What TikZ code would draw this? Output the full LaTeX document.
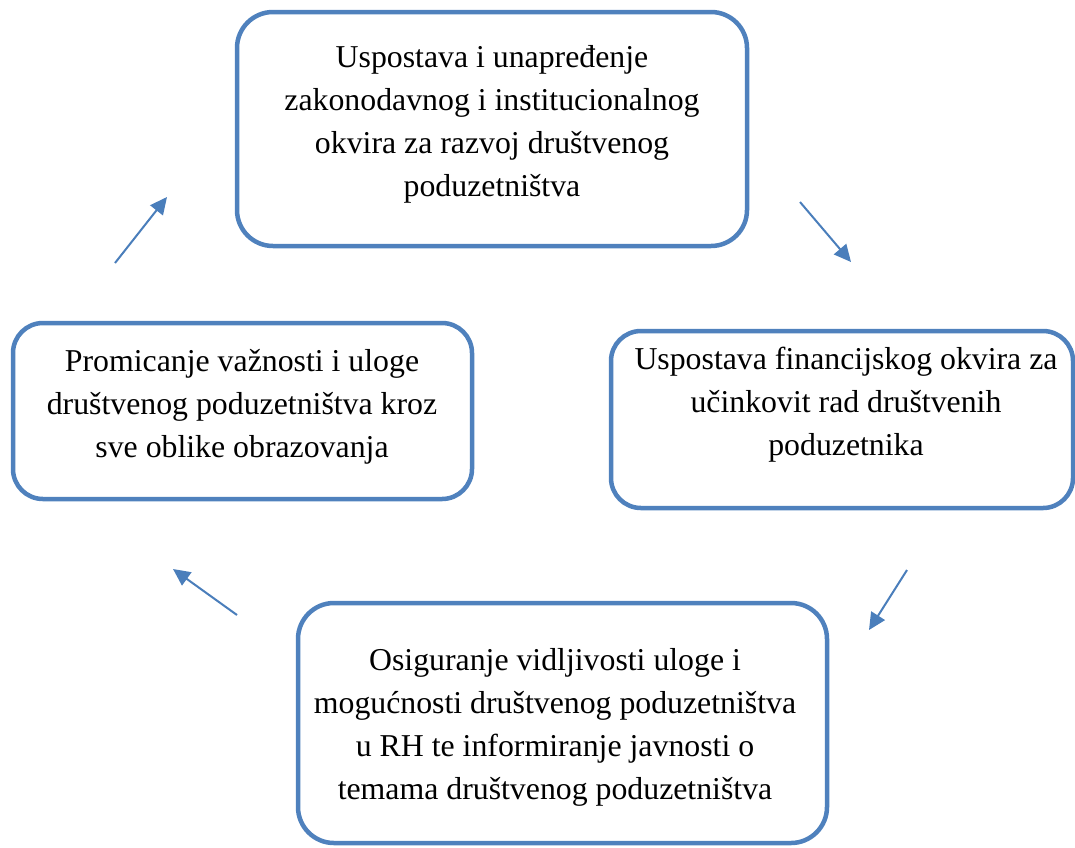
\documentclass[tikz,border=0pt]{standalone}
\usepackage{fontspec}
\setmainfont{Liberation Serif}
\usetikzlibrary{arrows.meta}
\definecolor{boxblue}{HTML}{4F81BD}
\definecolor{arrowblue}{HTML}{4A7EBB}
\begin{document}
\begin{tikzpicture}[x=1pt,y=-1pt,
  stagebox/.style={draw=boxblue, line width=4.5pt, fill=white, inner sep=0pt, outer sep=0pt},
  stagetext/.style={inner sep=0pt, align=center, text=black, font=\fontsize{31.8}{43}\selectfont},
  cyclearrow/.style={draw=arrowblue, line width=2pt, -{Triangle[length=17pt,width=16pt]}}]
\useasboundingbox (0,0) rectangle (1075,847);
\begin{scope}
\clip (0,0) rectangle (1075,847);
% boxes
\node[stagebox, rounded corners=36pt, minimum width=510pt, minimum height=234pt] (topbox) at (492,129) {};
\node[stagebox, rounded corners=30pt, minimum width=462pt, minimum height=177pt] (rightbox) at (842,419.5) {};
\node[stagebox, rounded corners=30pt, minimum width=459pt, minimum height=176pt] (leftbox) at (242.5,411) {};
\node[stagebox, rounded corners=36pt, minimum width=529pt, minimum height=240pt] (bottombox) at (562.5,723) {};
\end{scope}
% texts
\node[stagetext] (toptext) at (492,124) {Uspostava i unapređenje\\zakonodavnog i institucionalnog\\okvira za razvoj društvenog\\poduzetništva};
\node[stagetext] (righttext) at (846,405) {Uspostava financijskog okvira za\\učinkovit rad društvenih\\poduzetnika};
\node[stagetext] (lefttext) at (242,407) {Promicanje važnosti i uloge\\društvenog poduzetništva kroz\\sve oblike obrazovanja};
\node[stagetext] (bottomtext) at (555,727) {Osiguranje vidljivosti uloge i\\mogućnosti društvenog poduzetništva\\u RH te informiranje javnosti o\\temama društvenog poduzetništva};
% arrow ends
\coordinate (a1s) at (115,263); \coordinate (a1e) at (167,197);
\coordinate (a2s) at (800,202); \coordinate (a2e) at (851,262);
\coordinate (a3s) at (907,570); \coordinate (a3e) at (869,630);
\coordinate (a4s) at (237,615); \coordinate (a4e) at (173,569);
\draw[cyclearrow] (a1s) -- (a1e);
\draw[cyclearrow] (a2s) -- (a2e);
\draw[cyclearrow] (a3s) -- (a3e);
\draw[cyclearrow] (a4s) -- (a4e);
\end{tikzpicture}
\end{document}
